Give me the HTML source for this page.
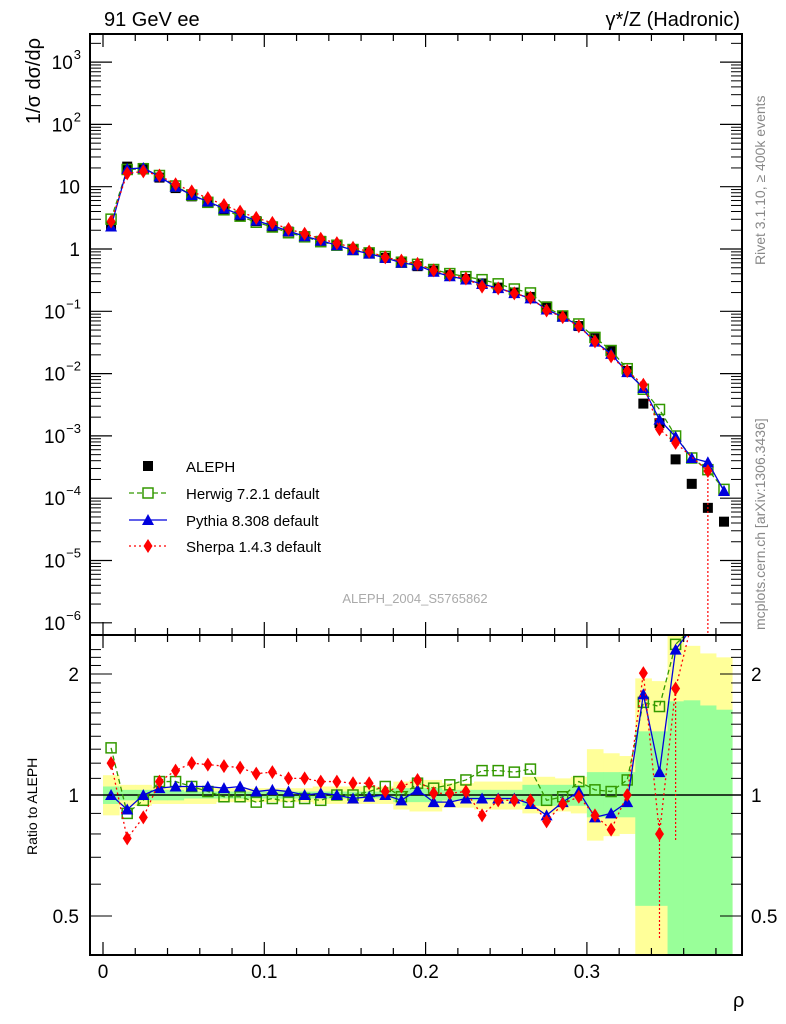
<!DOCTYPE html>
<html><head><meta charset="utf-8"><style>
body{margin:0;background:#fff}
svg{display:block;font-family:"Liberation Sans",sans-serif}
</style></head><body>
<svg id="c" width="786" height="1024" xmlns="http://www.w3.org/2000/svg"></svg>
<script>
const rho=[0.005,0.015,0.025,0.035,0.045,0.055,0.065,0.075,0.085,0.095,0.105,0.115,0.125,0.135,0.145,0.155,0.165,0.175,0.185,0.195,0.205,0.215,0.225,0.235,0.245,0.255,0.265,0.275,0.285,0.295,0.305,0.315,0.325,0.335,0.345,0.355,0.365,0.375,0.385];
const aleph=[2.3,21,20,14,9.5,7,5.5,4.3,3.4,2.8,2.3,1.9,1.6,1.35,1.15,0.98,0.85,0.72,0.62,0.53,0.45,0.38,0.33,0.28,0.24,0.2,0.17,0.12,0.085,0.058,0.037,0.023,0.011,0.0033,0.0016,0.00042,0.00017,0.00007,0.000042];
const herwigRatio=[1.31,0.90,0.97,1.08,1.08,1.05,1.02,0.99,0.99,0.96,0.98,0.96,0.98,0.97,1.0,1.0,1.02,1.05,0.99,1.07,1.04,1.06,1.09,1.15,1.15,1.14,1.16,0.97,0.99,1.08,1.03,1.02,1.09,1.70,1.66,2.37,2.6,4.1,3.3];
const pythiaRatio=[1.0,0.92,1.0,1.04,1.05,1.05,1.05,1.04,1.05,1.02,1.03,1.02,1.0,1.01,1.0,0.98,0.99,1.0,0.97,1.03,0.96,0.96,0.98,0.98,0.98,0.98,0.95,0.89,0.96,1.02,0.88,0.90,0.96,1.78,1.14,2.3,2.6,5.4,3.1];
const sherpaRatio=[1.20,0.78,0.88,1.08,1.15,1.20,1.19,1.18,1.17,1.13,1.14,1.10,1.10,1.08,1.08,1.07,1.07,1.02,1.05,1.09,1.01,1.01,1.02,0.89,0.97,0.97,0.97,0.86,0.95,0.99,0.89,0.82,1.0,2.01,0.80,1.84,null,3.9,null];
const yellowHi=[1.12,1.06,1.06,1.05,1.05,1.05,1.05,1.04,1.04,1.04,1.04,1.04,1.04,1.05,1.05,1.05,1.05,1.05,1.08,1.09,1.09,1.07,1.07,1.08,1.08,1.08,1.11,1.11,1.10,1.11,1.30,1.27,1.25,1.95,1.92,2.6,2.35,2.25,2.2];
const yellowLo=[0.89,0.94,0.94,0.95,0.95,0.95,0.95,0.96,0.96,0.96,0.96,0.96,0.96,0.95,0.95,0.95,0.95,0.95,0.92,0.91,0.91,0.93,0.93,0.92,0.92,0.92,0.90,0.90,0.91,0.90,0.77,0.79,0.80,0.3,0.3,0.3,0.3,0.3,0.3];
const greenHi=[1.05,1.03,1.03,1.03,1.03,1.02,1.02,1.02,1.02,1.02,1.02,1.02,1.02,1.02,1.02,1.02,1.02,1.02,1.04,1.04,1.04,1.03,1.03,1.03,1.03,1.03,1.06,1.06,1.06,1.06,1.14,1.14,1.14,1.44,1.44,1.71,1.72,1.67,1.63];
const greenLo=[0.95,0.97,0.97,0.97,0.97,0.98,0.98,0.98,0.98,0.98,0.98,0.98,0.98,0.98,0.98,0.98,0.98,0.98,0.96,0.96,0.96,0.97,0.97,0.97,0.97,0.97,0.94,0.94,0.94,0.94,0.88,0.88,0.88,0.53,0.53,0.3,0.3,0.3,0.3];
const xTicks=[0,0.1,0.2,0.3];
const xTickLabels=["0","0.1","0.2","0.3"];
const yDecades=[-6,-5,-4,-3,-2,-1,0,1,2,3];
const yDecadeExp=["\u22126","\u22125","\u22124","\u22123","\u22122","\u22121","","","2","3"];
const ratioTicks=[0.5,1,2];

const NS="http://www.w3.org/2000/svg";
const svg=document.getElementById('c');
function el(tag,attrs,parent){const e=document.createElementNS(NS,tag);for(const k in attrs)e.setAttribute(k,attrs[k]);(parent||svg).appendChild(e);return e;}
const L=90,R=742,T=34,B=635,RB=955;
const X=v=>103+v*1613;
const Y=v=>249-Math.log10(v)*62.3;
const RY=v=>Math.min(RB,Math.max(B,795-Math.log10(v)*402));
const bw=16.13;

const defs=el('defs',{});
const c1=el('clipPath',{id:'cm'},defs);el('rect',{x:L,y:T,width:R-L,height:B-T},c1);
const c2=el('clipPath',{id:'cr'},defs);el('rect',{x:L,y:B,width:R-L,height:RB-B},c2);

// bands
const gB=el('g',{});


rho.forEach((r,i)=>{
  const y1=RY(yellowHi[i]),y2=RY(yellowLo[i]);
  const a=el('rect',{x:X(r)-bw/2,y:y1,width:bw+0.5,height:y2-y1,fill:'#ffff99'},gB);
  
  
});
rho.forEach((r,i)=>{
  const y1=RY(greenHi[i]),y2=RY(greenLo[i]);
  const a=el('rect',{x:X(r)-bw/2,y:y1,width:bw+0.5,height:y2-y1,fill:'#99ff99'},gB);
  
  
});
el('line',{x1:L,x2:R,y1:795,y2:795,stroke:'#000','stroke-width':1.5});

function marker(g,type,x,y){
  let m;
  if(type==='sq') m=el('rect',{x:x-5,y:y-5,width:10,height:10,fill:'#000'},g);
  else if(type==='osq') m=el('rect',{x:x-5,y:y-5,width:10,height:10,fill:'none',stroke:'#339900','stroke-width':1.5},g);
  else if(type==='tri') m=el('polygon',{points:`${x},${y-6} ${x-6},${y+5} ${x+6},${y+5}`,fill:'#0000dd'},g);
  else m=el('polygon',{points:`${x},${y-7} ${x-4.5},${y} ${x},${y+7} ${x+4.5},${y}`,fill:'#ff0000'},g);
  
  
}
const series=[
 {name:'herwig',ratio:herwigRatio,color:'#339900',dash:'5,3',type:'osq'},
 {name:'pythia',ratio:pythiaRatio,color:'#0000dd',dash:'',type:'tri'},
 {name:'sherpa',ratio:sherpaRatio,color:'#ff0000',dash:'2,3',type:'dia'}];

function drawMain(s){
  const g=el('g',{'clip-path':'url(#cm)'});
  
  
  let pts=[];
  rho.forEach((r,i)=>{if(s.ratio[i]!=null)pts.push([X(r),Y(aleph[i]*s.ratio[i])]);});
  el('polyline',{points:pts.map(p=>p.join(',')).join(' '),fill:'none',stroke:s.color,'stroke-width':1.3,'stroke-dasharray':s.dash},g);
  pts.forEach(p=>marker(g,s.type,p[0],p[1]));
}
function drawRatio(s){
  const g=el('g',{'clip-path':'url(#cr)'});
  
  
  let pts=[];
  rho.forEach((r,i)=>{if(s.ratio[i]!=null)pts.push([X(r),795-Math.log10(s.ratio[i])*402]);});
  el('polyline',{points:pts.map(p=>p.join(',')).join(' '),fill:'none',stroke:s.color,'stroke-width':1.3,'stroke-dasharray':s.dash},g);
  pts.forEach(p=>marker(g,s.type,p[0],p[1]));
}

const ga=el('g',{'clip-path':'url(#cm)'});


rho.forEach((r,i)=>marker(ga,'sq',X(r),Y(aleph[i])));
series.forEach(drawMain);
el('line',{x1:X(0.375),x2:X(0.375),y1:Y(aleph[37]*sherpaRatio[37]),y2:B,stroke:'#ff0000','stroke-width':1.2,'stroke-dasharray':'2,2'});
el('line',{x1:X(0.345),x2:X(0.345),y1:820,y2:940,stroke:'#ff0000','stroke-width':1.2,'stroke-dasharray':'2,2'});
el('line',{x1:X(0.355),x2:X(0.355),y1:690,y2:840,stroke:'#ff0000','stroke-width':1.2,'stroke-dasharray':'2,2'});
series.forEach(drawRatio);

el('rect',{x:L,y:T,width:R-L,height:B-T,fill:'none',stroke:'#000','stroke-width':2});
el('rect',{x:L,y:B,width:R-L,height:RB-B,fill:'none',stroke:'#000','stroke-width':2});

for(let k=0;k<=19;k++){
  const v=k*0.02,x=X(v);if(x>R)break;
  const major=(k%5===0),len=major?13:7;
  [[T,1],[B,-1],[B,1],[RB,-1]].forEach(([y0,d])=>el('line',{x1:x,x2:x,y1:y0,y2:y0+d*len,stroke:'#000','stroke-width':1.2}));
}
xTicks.forEach((v,i)=>{const t=el('text',{x:X(v),y:978,'font-size':19,'text-anchor':'middle'});t.textContent=xTickLabels[i];
});
yDecades.forEach((d,i)=>{
  const y=Y(Math.pow(10,d));
  el('line',{x1:L,x2:L+22,y1:y,y2:y,stroke:'#000','stroke-width':1.2});
  el('line',{x1:R,x2:R-22,y1:y,y2:y,stroke:'#000','stroke-width':1.2});
  for(let m=2;m<=9;m++){const ym=Y(m*Math.pow(10,d));if(ym<T)continue;
    el('line',{x1:L,x2:L+11,y1:ym,y2:ym,stroke:'#000','stroke-width':1});
    el('line',{x1:R,x2:R-11,y1:ym,y2:ym,stroke:'#000','stroke-width':1});}
  const exp=yDecadeExp[i];
  const ex=81;
  if(exp===''){
    const t=el('text',{x:80,y:y+7,'font-size':19,'text-anchor':'end'});
    
    t.textContent=(d===0?'1':'10');
  } else {
    const e=el('text',{x:ex,y:y-3,'font-size':13,'text-anchor':'end'});
    
    e.textContent=exp;
    const w=e.getComputedTextLength?e.getComputedTextLength():8;
    const t=el('text',{x:ex-w-1,y:y+7,'font-size':19,'text-anchor':'end'});
    
    t.textContent='10';
  }
});
for(let v=0.4;v<=2.4;v+=0.1){const y=795-Math.log10(v)*402;if(y<B||y>RB)continue;
  const major=[0.5,1,2].some(m=>Math.abs(m-v)<1e-6);
  const len=major?22:11;
  el('line',{x1:L,x2:L+len,y1:y,y2:y,stroke:'#000','stroke-width':1});
  el('line',{x1:R,x2:R-len,y1:y,y2:y,stroke:'#000','stroke-width':1});}
ratioTicks.forEach(v=>{const y=795-Math.log10(v)*402;
  const t=el('text',{x:79,y:y+7,'font-size':19,'text-anchor':'end'});t.textContent=String(v);
  
  const t2=el('text',{x:751,y:y+7,'font-size':19});t2.textContent=String(v);
  });
</script>
<svg width="786" height="1024" style="position:absolute;left:0;top:0" xmlns="http://www.w3.org/2000/svg">
<text x="104" y="26" font-size="20">91 GeV ee</text>
<text x="740" y="26" font-size="20" text-anchor="end">γ*/Z (Hadronic)</text>
<text transform="translate(40,38) rotate(-90)" font-size="20" text-anchor="end">1/σ  dσ/dρ</text>
<text transform="translate(37,855) rotate(-90)" font-size="14">Ratio to ALEPH</text>
<text x="733" y="1007" font-size="20">ρ</text>
<text transform="translate(765,265) rotate(-90)" font-size="14" fill="#888">Rivet 3.1.10, ≥ 400k events</text>
<text transform="translate(765,630) rotate(-90)" font-size="14" fill="#888">mcplots.cern.ch [arXiv:1306.3436]</text>
<text x="415" y="603" font-size="13" fill="#aaa" text-anchor="middle">ALEPH_2004_S5765862</text>
<g font-size="15">
 <rect x="143" y="461" width="10" height="10" fill="#000"/>
 <text x="186" y="472">ALEPH</text>
 <line x1="129" x2="167" y1="493" y2="493" stroke="#339900" stroke-dasharray="5,3" stroke-width="1.3"/>
 <rect x="143" y="488" width="10" height="10" fill="#fff" stroke="#339900" stroke-width="1.5"/>
 <text x="186" y="499">Herwig 7.2.1 default</text>
 <line x1="129" x2="167" y1="520" y2="520" stroke="#0000dd" stroke-width="1.3"/>
 <polygon points="148,514 142,525 154,525" fill="#0000dd"/>
 <text x="186" y="526">Pythia 8.308 default</text>
 <line x1="129" x2="167" y1="546" y2="546" stroke="#ff0000" stroke-dasharray="2,3" stroke-width="1.3"/>
 <polygon points="148,539 143.5,546 148,553 152.5,546" fill="#ff0000"/>
 <text x="186" y="552">Sherpa 1.4.3 default</text>
</g>
</svg>
</body></html>
